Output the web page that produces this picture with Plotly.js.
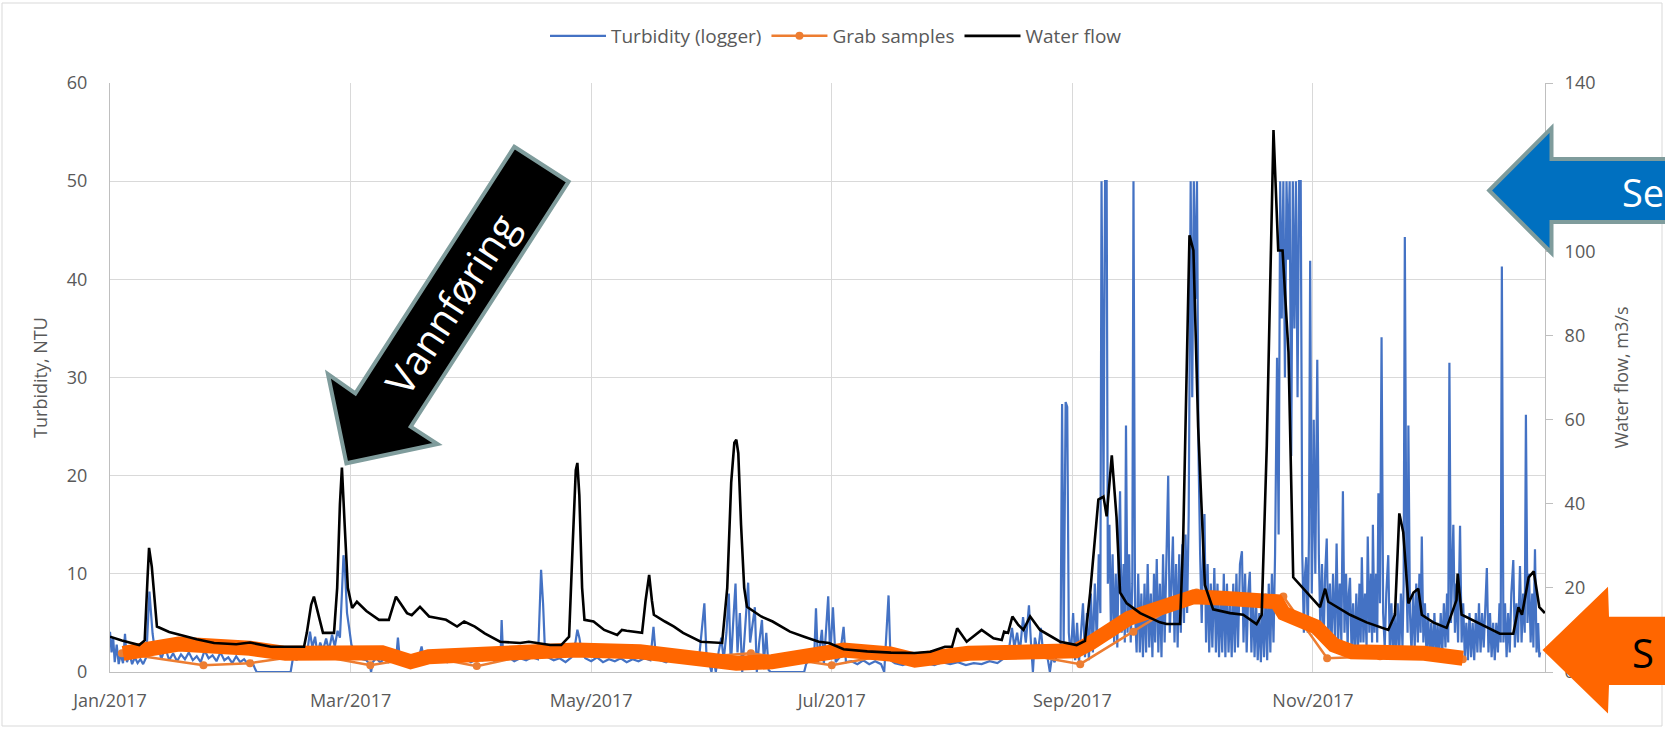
<!DOCTYPE html>
<html>
<head>
<meta charset="utf-8">
<script src="https://cdn.plot.ly/plotly-3.0.1.min.js"></script>
<style>
html,body{margin:0;padding:0;background:#fff;}
#chart{width:1665px;height:729px;}
</style>
</head>
<body>
<div id="chart"></div>
<script>
// ---------------- DATA (day offset from 1 Jan 2017, value) ----------------
const tickDays = [0, 61, 122, 183, 244, 305];
const tickLabels = ['Jan/2017', 'Mar/2017', 'May/2017', 'Jul/2017', 'Sep/2017', 'Nov/2017'];

// Water flow, m3/s (right axis)
const flowReadings = [
[0,8.4],[3,7.5],[7.4,6.4],[8.8,7.5],[9.5,22],[9.9,29.5],[10.6,25],[11.2,18],[11.9,10.8],[15,9.5],[19.3,8.4],[22,7.8],[26.4,6.9],[32,6.6],[35.5,7.0],[38,6.5],[40.8,6.0],[45,6.0],[49.2,6.0],[49.9,9.3],[51,16],[51.7,17.9],[52.5,15],[54,9.3],[56.8,9.3],[57.6,20],[58.3,40],[58.8,48.6],[59.5,35],[60.3,20],[61.4,15.2],[62.6,16.7],[65,14.5],[68.2,12.4],[70.7,12.4],[71.5,15],[72.5,17.9],[73.5,16.5],[75.3,14],[76.5,13.5],[78.6,15.5],[80.9,13.2],[83,12.8],[85.2,12.4],[88,10.8],[89.8,12],[92.5,10.8],[95,9.2],[98.9,7.2],[102.4,6.9],[104,6.9],[106.2,7.2],[111.6,6.4],[114.4,6.4],[116.4,8.4],[117.3,30],[118.1,48],[118.5,49.7],[119,42],[119.7,20],[120.3,12.4],[122.6,12],[125.3,10],[128.6,8.8],[129.8,10],[131,9.8],[132.6,9.6],[134.9,9.3],[135.8,17],[136.7,23.1],[137.4,17],[137.9,13.6],[140.7,12],[143,10.8],[145.3,9.3],[149.8,7.2],[155.2,6.9],[156.5,20],[157.5,45],[158.3,54.5],[158.8,55.2],[159.3,52],[160,35],[160.8,20],[161.5,15.5],[165.1,13.2],[168,12],[172.4,9.6],[176,8.4],[179.7,7.2],[182.3,6.9],[186,5.4],[192,4.9],[198,4.6],[204,4.5],[208,4.8],[211.7,6.0],[213.5,6.0],[214.8,10.4],[217.2,7.2],[221,10],[224,8],[226.1,7.6],[226.7,9.6],[227.7,9.3],[228.8,13.2],[230.3,11.2],[231.6,10],[233.3,13.2],[235.8,10],[240.9,7.2],[245.1,6.4],[247.2,7.4],[248.5,18.7],[250.6,41],[251.9,41.7],[252.7,37],[254,51.5],[255.2,36.8],[256.1,18.9],[257.8,16.3],[261.2,14],[266.2,11.8],[267.9,11.4],[271.3,11.4],[272.1,31.4],[273.7,103.8],[274.7,100.2],[275.9,58.2],[277.6,20.7],[279.7,14.9],[284,14],[287.3,13.6],[290.7,11.4],[292,13.6],[293.3,53.8],[295,128.8],[296.2,100.2],[297.3,100.2],[298.8,76],[300,22.5],[303.4,18.9],[306.8,15.4],[308.1,19.8],[308.9,16.7],[314.4,13.6],[318.6,11.8],[324.1,10],[325.8,13.6],[326.9,37.7],[327.9,33.2],[329.2,16.3],[330.5,18.9],[331.7,19.8],[332.6,13.6],[335.5,11.8],[338.9,10.5],[341.4,17.1],[341.7,23.4],[342.7,13.6],[346.5,11.8],[352.4,9.1],[355.8,9.1],[357.1,15.4],[358,13.6],[359.7,22.5],[361,23.9],[362.4,15.4],[363.8,14]
];

// Turbidity logger, NTU (left axis, sensor capped at 50)
const turbidityReadings = [
[0,4.1],[0.4,2.0],[0.8,3.5],[1.2,1.0],[1.7,2.8],[2.2,0.8],[2.7,1.8],[3.3,0.9],[3.8,3.9],[4.3,1.0],[5,1.8],[5.6,0.8],[6.3,1.5],[7,0.9],[7.7,1.3],[8.4,0.8],[9.2,1.5],[9.7,5],[10,8.2],[10.4,6],[10.8,3.9],[11.5,1.8],[12.3,2.6],[13,1.3],[14,2.5],[15,1.2],[16,1.9],[17,1.1],[18,1.8],[19,1.3],[20,2.0],[21,1.2],[22,1.6],[23,1.0],[24,2.2],[25,1.4],[26,1.7],[27,1.1],[28,2.0],[29,1.2],[30,1.5],[31,0.9],[32,1.6],[33,1.0],[34,1.3],[35,0.8],[36,1.1],[36.8,0.3],[37.2,0],[45.8,0],[46.5,1.7],[47.3,1.2],[48,1.9],[49,1.4],[50,2.0],[50.7,4.1],[51.3,2.5],[52,3.6],[52.6,1.8],[53.3,3.0],[54,2.2],[54.8,3.4],[55.5,2.2],[56.3,3.8],[57,2.6],[57.7,4.2],[58.3,3.5],[58.8,8],[59.2,11.9],[59.6,10.2],[60.1,6],[60.6,4.6],[61.2,2.8],[62,2.0],[63,1.5],[64,1.3],[65,1.2],[65.8,0.8],[66.2,0],[66.6,1.0],[67.5,1.4],[68.5,1.0],[69.5,1.3],[70.5,1.0],[71.5,1.5],[72.5,1.1],[73,3.5],[73.5,1.2],[74.5,1.4],[75.5,1.0],[76.5,1.5],[77.5,1.2],[78.5,1.8],[79,2.6],[79.6,1.3],[81,1.5],[82.5,1.1],[84,1.4],[85.5,1.0],[87,1.3],[88.5,1.1],[90,1.4],[91.5,1.0],[93,1.3],[94.5,1.2],[96,1.6],[97.5,1.1],[99,1.4],[99.3,5.3],[99.7,1.3],[101,1.5],[102.5,1.1],[104,1.4],[105.5,1.2],[107,1.5],[108.5,1.3],[109,6],[109.3,10.4],[109.8,7.0],[110.3,2.0],[111,1.5],[112.5,1.2],[114,1.4],[115.5,1.0],[117,1.5],[118,3.0],[118.5,4.3],[119,3.5],[119.6,2.0],[120.5,1.4],[122,1.1],[123.5,1.5],[125,1.0],[126.5,1.3],[128,1.1],[129.5,1.4],[131,1.0],[132.5,1.3],[134,1.1],[135.5,1.4],[137,1.2],[137.8,4.6],[138.4,1.5],[139.5,1.2],[141,1.0],[142.5,1.4],[144,1.1],[145.5,1.5],[147,1.0],[148.5,1.3],[149.5,2.0],[150.7,7.0],[151.2,2.0],[151.8,1.0],[152.5,0],[153,1.5],[153.6,0],[154.3,2.0],[155,3.5],[155.6,1.2],[156.3,4.0],[156.9,8.0],[157.4,0.5],[158,5],[158.6,9.0],[159.1,2.0],[159.7,6.0],[160.3,0],[160.9,4],[161.8,9.1],[162.3,3.0],[162.9,5.0],[163.5,6.6],[164,0],[164.6,3.0],[165.3,5.3],[165.8,1.0],[166.4,4.0],[167,0.2],[167.5,0],[176,0],[176.5,0.8],[177.5,1.5],[178.5,1.0],[179,6.5],[179.5,1.0],[180.5,4.3],[181,0.8],[182.1,7.7],[182.6,1.5],[183.3,6.6],[184,1.0],[185,1.5],[186,4.6],[186.6,1.0],[188,1.1],[189.5,0.8],[191,1.2],[192.5,0.8],[194,1.1],[195.5,0.8],[196.3,0],[196.8,4.1],[197.4,7.8],[197.9,1.2],[199,0.9],[201,0.7],[203,1.0],[205,0.7],[207,0.9],[209,0.7],[211,1.0],[213,0.8],[215,1.0],[217,0.7],[219,0.9],[221,0.8],[223,1.1],[225,0.9],[227,1.5],[228,2.5],[228.7,4.5],[229.3,2.5],[230,4.0],[230.7,2.0],[231.5,5.6],[232.2,3.0],[233,6.8],[233.5,3.0],[234,0],[234.5,3.5],[235.3,2.0],[236,4.5],[236.7,1.5],[237.5,2.0],[238.3,0],[238.8,1.5],[239.5,1.0],[240.3,2.0],[241,1.5],
[241.4,27.3],[241.8,3],[242.3,27.5],[242.7,27],[243.1,4],[243.6,1.5],[244.2,6],[244.7,1.2],[245.2,5],[245.7,1],[246.2,4],[246.7,7],[247.2,1.5],[247.7,6],[248.2,1.2],[248.7,8],[249.2,2],[249.7,9],[250.2,3],[250.7,12],[251.1,6],[251.4,50],[251.9,18],[252.3,50],[252.7,50],[253.0,9],[253.4,15],[253.8,4],[254.2,12],[254.6,3],[255.0,10],[255.4,2.5],[255.8,13],[256.1,18.4],[256.5,4],[257.0,11],[257.3,3],[257.6,25.1],[258.0,4],[258.4,12],[258.8,3],[259.2,9],[259.5,50],[259.9,6],[260.3,2],[260.7,10],[261.1,2],[261.5,8],[261.9,1.5],[262.3,9],[262.7,2],[263.1,11],[263.5,2.5],[263.9,8],[264.3,1.5],[264.7,10],[265.0,3],[265.4,11.5],[265.8,2],[266.2,9],[266.6,1.5],[267.0,12],[267.4,3],[267.8,10],[268.3,20],[268.7,4],[269.1,10],[269.5,13.8],[269.9,3],[270.3,11],[270.7,2.5],[271.1,12],[271.5,4],[271.9,13],[272.3,5],[272.7,14],[273.1,6],[273.5,16],[274.0,50],[274.4,28],[274.8,50],[275.2,38],[275.6,50],[276.0,22],[276.4,12],[276.8,5],[277.2,13],[277.5,16.1],[277.9,3],[278.3,11],[278.7,2],[279.1,9],[279.5,2.5],[280.0,10.6],[280.4,2],[280.8,9],[281.2,1.5],[281.6,8],[282.0,2],[282.4,10],[282.8,1.5],[283.2,9],[283.6,2],[284.0,7],[284.4,1.5],[284.8,9],[285.2,2],[285.6,10],[286.0,2.5],[286.5,11],[287.0,12.3],[287.4,3],[287.8,10],[288.2,2],[288.6,8],[289.0,10.2],[289.4,2],[289.8,8],[290.2,1.5],[290.6,7],[291.0,1.2],[291.4,6],[291.8,1],[292.2,7],[292.6,1.5],[293.0,8],[293.4,1.2],[293.8,9],[294.2,2],[294.6,10],[295.0,3],[295.4,12],[295.9,32],[296.3,14],[296.7,50],[297.1,36],[297.5,50],[297.9,30],[298.3,50],[298.7,42],[299.1,50],[299.5,22],[299.9,50],[300.3,35],[300.7,50],[301.1,28],[301.5,50],[301.9,50],[302.3,12],[302.7,4],[303.0,10],[303.3,11.7],[303.7,4],[304.0,14],[304.3,41.9],[304.7,8],[305.0,16],[305.2,25.7],[305.6,10],[305.9,20],[306.1,31.8],[306.5,12],[306.9,4],[307.3,11],[307.7,3],[308.1,10],[308.5,13.6],[308.9,3],[309.3,9],[309.7,2.5],[310.1,10],[310.6,3],[311.0,13.1],[311.4,3],[311.8,9],[312.2,3],[312.6,18.4],[313.0,4],[313.4,10],[313.8,2.5],[314.1,8],[314.4,9.6],[314.8,2],[315.2,7],[315.6,1.5],[316.0,8],[316.4,2],[316.8,9],[317.1,3],[317.4,11.7],[317.8,3],[318.2,8],[318.6,2.5],[318.9,13.8],[319.3,4],[319.7,10],[320.0,3],[320.2,15],[320.6,4],[321.0,10],[321.3,3],[321.6,18.2],[322.0,7],[322.4,34.1],[322.8,6],[323.2,2.5],[323.6,8],[324.1,11.9],[324.5,2],[324.9,7],[325.3,1.5],[325.7,6],[326.1,1.5],[326.5,7],[326.9,2],[327.3,8],[327.7,2.5],[328.0,9],[328.3,44.3],[328.7,10],[329.0,4],[329.2,25.1],[329.6,6],[330.0,2],[330.4,8],[330.8,2.5],[331.2,9],[331.6,3],[332.0,10],[332.3,4],[332.6,13.8],[333.0,3],[333.4,7],[333.8,1.5],[334.2,6],[334.6,1.5],[335.0,5],[335.4,1.2],[335.8,6],[336.2,1.5],[336.6,5],[337.0,1.2],[337.4,6],[337.8,2],[338.2,7],[338.6,2.5],[339.0,8],[339.3,3],[339.6,31.5],[340.0,5],[340.3,10],[340.6,15],[341.0,4],[341.4,9],[341.8,3],[342.3,14.9],[342.7,3],[343.1,7],[343.5,1.5],[343.9,5],[344.3,1.2],[344.7,6],[345.1,1.5],[345.5,5],[345.9,1.2],[346.3,6],[346.7,2],[347.1,7],[347.5,2],[347.9,6],[348.3,2.5],[348.7,7],[349.1,10.6],[349.5,2],[349.9,6],[350.3,1.5],[350.7,5],[351.1,1.2],[351.5,5],[351.9,2],[352.3,7],[352.6,3],[352.9,41.3],[353.3,3],[353.7,7],[354.1,1.5],[354.5,6],[354.9,2],[355.3,8],[355.8,11.4],[356.2,2.5],[356.6,7],[357.0,3],[357.5,10.8],[357.9,3],[358.3,8],[358.7,4],[359.0,26.2],[359.4,5],[359.8,10],[360.2,3],[360.6,8],[360.9,2.5],[361.3,12.5],[361.7,2],[362.1,5],[362.4,1.5],[362.6,2.0]
];

// Grab samples, NTU (left axis)
const grabSamples = [
[3,1.9],[23.7,0.7],[35.5,0.9],[51,1.8],[66,0.7],[80,1.6],[93,0.6],[107,1.8],[121,2.0],[135,2.0],[149,1.5],[162.5,1.9],[183,0.7],[198,1.8],[218,1.9],[232,1.8],[246,0.8],[259.5,4.1],[275.5,8.1],[297.5,7.7],[308.6,1.4],[322,1.6],[343,1.3]
];

// Hand-drawn orange highlight over the grab samples, NTU (left axis)
const highlightStroke = [
[3.3,1.9],[17.4,2.85],[35.5,2.41],[44.5,1.9],[69,1.97],[76.2,1.05],[80.8,1.56],[114.1,2.07],[118.1,2.24],[134.4,2.07],[145.3,1.4],[158.8,0.89],[167.8,1.05],[179.7,2.07],[186,2.24],[197.8,1.83],[204.1,1.22],[217.7,1.9],[244.9,2.17],[248.5,2.92],[251,3.6],[258.3,5.47],[268.4,6.82],[271,7.33],[274.8,7.67],[283,7.5],[295.8,7.16],[297.6,5.98],[305.8,4.61],[310.3,2.75],[314.9,2.07],[333.2,1.9],[338.7,1.4],[343,1.4]
];

// ---------------- HELPERS ----------------
const START = Date.UTC(2017, 0, 1);
function toDate(d) {
  return new Date(START + d * 86400000).toISOString().replace('T', ' ').slice(0, 19);
}
const xs = arr => arr.map(p => toDate(p[0]));
const ys = arr => arr.map(p => p[1]);

// plot-area geometry (pixels) for overlay annotation shapes
const M = {l: 110, r: 120, t: 83, b: 57};
const W = 1665 - M.l - M.r, H = 729 - M.t - M.b;
const px = x => (x - M.l) / W;
const py = y => (M.t + H - y) / H;
function poly(pts) {
  return 'M ' + pts.map(p => px(p[0]).toFixed(5) + ',' + py(p[1]).toFixed(5)).join(' L ') + ' Z';
}

const FONT = '"Open Sans", "Noto Sans", sans-serif';
const GREY = '#595959';

const traces = [
  {
    name: 'Turbidity (logger)', type: 'scatter', mode: 'lines',
    x: xs(turbidityReadings), y: ys(turbidityReadings), yaxis: 'y',
    line: {color: '#4472C4', width: 2.2}
  },
  {
    name: 'Grab samples', type: 'scatter', mode: 'lines+markers',
    x: xs(grabSamples), y: ys(grabSamples), yaxis: 'y',
    line: {color: '#ED7D31', width: 2.5}, marker: {color: '#ED7D31', size: 8}
  },
  {
    name: 'Water flow', type: 'scatter', mode: 'lines',
    x: xs(flowReadings), y: ys(flowReadings), yaxis: 'y2',
    line: {color: '#000000', width: 2.6}
  },
  {
    name: 'highlight', type: 'scatter', mode: 'lines', showlegend: false, hoverinfo: 'skip',
    x: xs(highlightStroke), y: ys(highlightStroke), yaxis: 'y',
    line: {color: '#FF6600', width: 15}
  }
];

const layout = {
  width: 1665, height: 729,
  margin: {l: M.l, r: M.r, t: M.t, b: M.b, pad: 0},
  paper_bgcolor: '#ffffff', plot_bgcolor: '#ffffff',
  font: {family: FONT, color: GREY, size: 18},
  showlegend: true,
  legend: {
    orientation: 'h', x: px(836), xanchor: 'center', y: py(36), yanchor: 'middle',
    font: {family: FONT, size: 19, color: GREY}, bgcolor: 'rgba(0,0,0,0)', itemwidth: 56
  },
  xaxis: {
    type: 'date', range: [toDate(0), toDate(363.84)],
    tickmode: 'array', tickvals: tickDays.map(toDate), ticktext: tickLabels,
    showgrid: true, gridcolor: '#d9d9d9', gridwidth: 1,
    showline: true, linecolor: '#bfbfbf', linewidth: 1, zeroline: false,
    ticks: '', ticklabelstandoff: 12,
    tickfont: {family: FONT, size: 18, color: GREY}
  },
  yaxis: {
    range: [0, 60], tickmode: 'linear', tick0: 0, dtick: 10,
    showgrid: true, gridcolor: '#d9d9d9', gridwidth: 1,
    showline: true, linecolor: '#bfbfbf', linewidth: 1, zeroline: false,
    ticks: '', ticklabelstandoff: 18,
    tickfont: {family: FONT, size: 18, color: GREY},
    title: {text: 'Turbidity, NTU', font: {family: FONT, size: 18, color: GREY}, standoff: 14}
  },
  yaxis2: {
    range: [0, 140], tickmode: 'linear', tick0: 0, dtick: 20,
    overlaying: 'y', side: 'right', showgrid: false, zeroline: false,
    showline: true, linecolor: '#bfbfbf', linewidth: 1,
    ticks: 'outside', ticklen: 7, tickcolor: '#bfbfbf', ticklabelstandoff: 8,
    tickfont: {family: FONT, size: 18, color: GREY},
    title: {text: 'Water flow, m3/s', font: {family: FONT, size: 18, color: GREY}, standoff: 20}
  },
  shapes: [
    // chart-area border
    {type: 'rect', xref: 'paper', yref: 'paper', x0: px(2), x1: px(1662), y0: py(726), y1: py(3),
     line: {color: '#d9d9d9', width: 1}, layer: 'below'},
    // black block arrow "Vannføring"
    {type: 'path', xref: 'paper', yref: 'paper', layer: 'above',
     path: poly([[514.3,146.7],[568.6,181.7],[410.7,426.7],[437.5,444],[346.4,463.3],[327.9,374],[355.4,393.3]]),
     fillcolor: '#000000', line: {color: '#7F9C9C', width: 4}},
    // blue block arrow
    {type: 'path', xref: 'paper', yref: 'paper', layer: 'above',
     path: poly([[1489.2,190.5],[1551.5,128],[1551.5,159],[1720,159],[1720,222],[1551.5,222],[1551.5,253]]),
     fillcolor: '#0070C0', line: {color: '#7F9C9C', width: 4}},
    // orange block arrow
    {type: 'path', xref: 'paper', yref: 'paper', layer: 'above',
     path: poly([[1542.5,650],[1608,586.7],[1609,616.7],[1720,616.7],[1720,685],[1609,685],[1608,713.6]]),
     fillcolor: '#FF6600', line: {color: '#FF6600', width: 0}}
  ],
  annotations: [
    {xref: 'paper', yref: 'paper', x: px(450), y: py(304), xanchor: 'center', yanchor: 'middle',
     text: 'Vannføring', showarrow: false, textangle: -57,
     font: {family: FONT, size: 40, color: '#ffffff'}},
    {xref: 'paper', yref: 'paper', x: px(1620), y: py(192), xanchor: 'left', yanchor: 'middle',
     text: 'Se', showarrow: false, font: {family: FONT, size: 38, color: '#ffffff'}},
    {xref: 'paper', yref: 'paper', x: px(1630), y: py(652), xanchor: 'left', yanchor: 'middle',
     text: 'S', showarrow: false, font: {family: FONT, size: 40, color: '#000000'}}
  ]
};

Plotly.newPlot('chart', traces, layout, {displayModeBar: false, responsive: false});
</script>
</body>
</html>
